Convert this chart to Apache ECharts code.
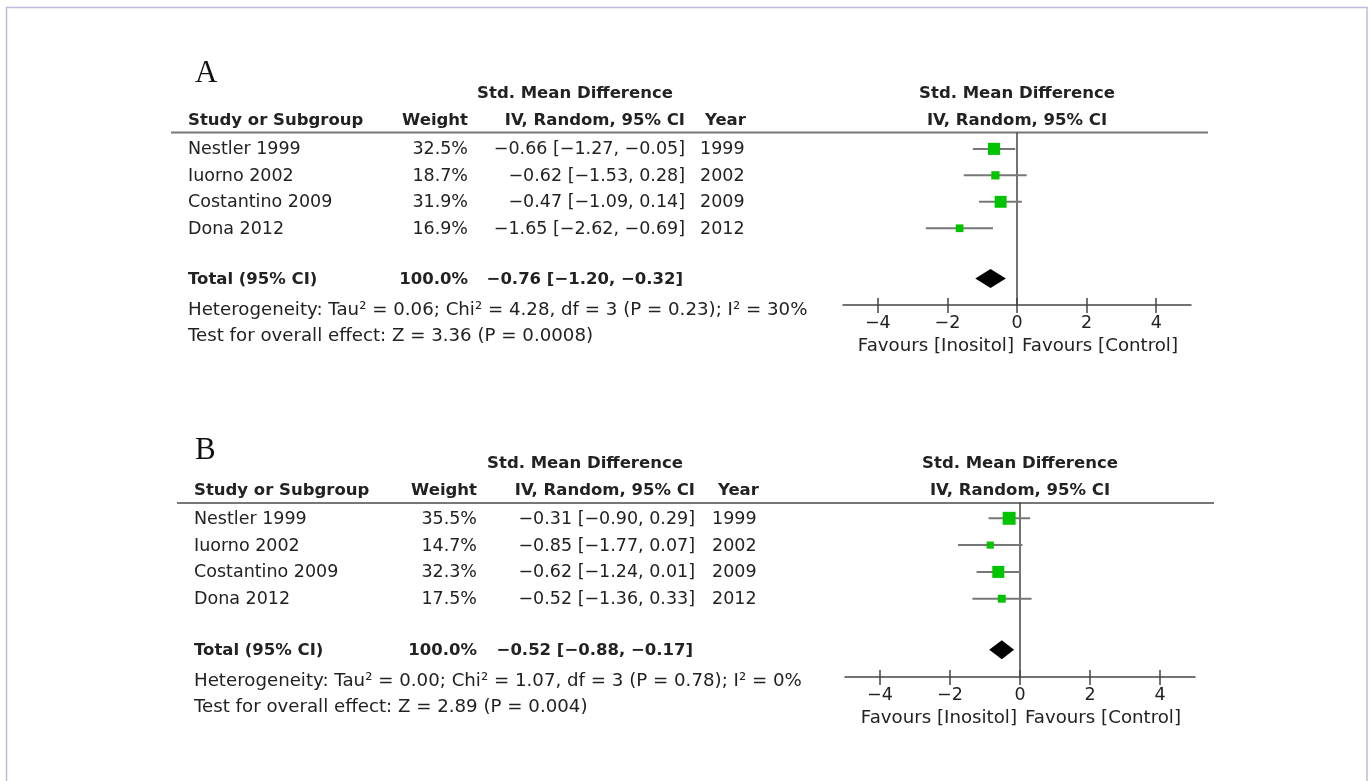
<!DOCTYPE html>
<html>
<head>
<meta charset="utf-8">
<script src="https://cdn.jsdelivr.net/npm/echarts@6/dist/echarts.min.js"></script>
<style>
html, body { margin: 0; padding: 0; background: #fff; }
#main { width: 1370px; height: 781px; }
</style>
</head>
<body>
<div id="main"></div>
<script>
// data
var studies = ['Nestler 1999', 'Iuorno 2002', 'Costantino 2009', 'Dona 2012'];
var years = [1999, 2002, 2009, 2012];
var xTicks = [-4, -2, 0, 2, 4];

var weightA = [32.5, 18.7, 31.9, 16.9];
var smdA = [-0.66, -0.62, -0.47, -1.65];
var lowA = [-1.27, -1.53, -1.09, -2.62];
var highA = [-0.05, 0.28, 0.14, -0.69];
var totalA = [-0.76, -1.20, -0.32]; // est, low, high
var hetA = 'Heterogeneity: Tau² = 0.06; Chi² = 4.28, df = 3 (P = 0.23); I² = 30%';
var testA = 'Test for overall effect: Z = 3.36 (P = 0.0008)';

var weightB = [35.5, 14.7, 32.3, 17.5];
var smdB = [-0.31, -0.85, -0.62, -0.52];
var lowB = [-0.90, -1.77, -1.24, -1.36];
var highB = [0.29, 0.07, 0.01, 0.33];
var totalB = [-0.52, -0.88, -0.17];
var hetB = 'Heterogeneity: Tau² = 0.00; Chi² = 1.07, df = 3 (P = 0.78); I² = 0%';
var testB = 'Test for overall effect: Z = 2.89 (P = 0.004)';

var FONT = '"DejaVu Sans", sans-serif';
var TXT = '#222';
var REG = '17.5px ' + FONT;
var NOTE = '18.2px ' + FONT;
var BOLD = 'bold 16.5px ' + FONT;

// layout of the two panels
var panels = [
    {label: 'A', weight: weightA, smd: smdA, low: lowA, high: highA, total: totalA, het: hetA, test: testA,
     left: 843, right: 1191, top: 133, bottom: 305, yMin: -0.6, yMax: 5.9,
     colName: 188, colWeight: 468, colCI: 685, colYear: 700, colYearHead: 705,
     head1: 94, head2: 121, headCenter: 575, zeroX: 1017, ruleY: 132.5, ruleX1: 171, ruleX2: 1208, letterY: 74},
    {label: 'B', weight: weightB, smd: smdB, low: lowB, high: highB, total: totalB, het: hetB, test: testB,
     left: 845, right: 1195, top: 503, bottom: 677, yMin: -0.57, yMax: 5.92,
     colName: 194, colWeight: 477, colCI: 695, colYear: 712, colYearHead: 718,
     head1: 464, head2: 491, headCenter: 585, zeroX: 1020, ruleY: 503, ruleX1: 177, ruleX2: 1214, letterY: 451}
];
var TOTAL_ROW = 4.9, HET_ROW = 6.05, TEST_ROW = 7.03;

function fmt(v) {
    return v.toFixed(2).replace('-', '\u2212');
}
function ciText(e, l, h) {
    return fmt(e) + ' [' + fmt(l) + ', ' + fmt(h) + ']';
}

var grids = [], xAxes = [], yAxes = [], series = [], graphics = [];

graphics.push({
    type: 'rect', silent: true,
    shape: {x: 6.5, y: 7.5, width: 1360.5, height: 800},
    style: {fill: 'none', stroke: '#bcbce0', lineWidth: 1.5}
});

panels.forEach(function (p, k) {
    grids.push({left: p.left, top: p.top, width: p.right - p.left, height: p.bottom - p.top});
    xAxes.push({
        type: 'value', gridIndex: k, min: -5, max: 5, position: 'bottom',
        axisLine: {onZero: false, lineStyle: {color: '#444', width: 1.5}},
        axisTick: {show: true, length: 8, customValues: xTicks, lineStyle: {color: '#444', width: 1.5}},
        axisLabel: {customValues: xTicks, margin: 9, fontSize: 17.5, fontFamily: FONT, color: TXT,
            formatter: function (v) { return String(v).replace('-', '\u2212'); }},
        splitLine: {show: false}
    });
    xAxes.push({
        type: 'value', gridIndex: k, min: -5, max: 5, position: 'bottom',
        axisLine: {show: false, onZero: false},
        axisTick: {show: true, inside: true, length: 7, customValues: xTicks, lineStyle: {color: '#444', width: 1.5}},
        axisLabel: {show: false},
        splitLine: {show: false}
    });
    yAxes.push({
        type: 'value', gridIndex: k, inverse: true, min: p.yMin, max: p.yMax,
        axisLine: {show: true, onZero: true, onZeroAxisIndex: k * 2, lineStyle: {color: '#444', width: 1.5}},
        axisTick: {show: false}, axisLabel: {show: false}, splitLine: {show: false}
    });

    // study CIs and weight squares
    series.push({
        type: 'custom', xAxisIndex: k * 2, yAxisIndex: k, clip: false,
        data: studies.map(function (s, i) { return [p.smd[i], i, p.low[i], p.high[i], p.weight[i]]; }),
        renderItem: function (params, api) {
            var c = api.coord([api.value(0), api.value(1)]);
            var l = api.coord([api.value(2), api.value(1)]);
            var h = api.coord([api.value(3), api.value(1)]);
            var size = 3 + 0.28 * api.value(4);
            return {type: 'group', children: [
                {type: 'line', shape: {x1: l[0], y1: l[1], x2: h[0], y2: h[1]}, style: {stroke: '#777', lineWidth: 2}},
                {type: 'rect', shape: {x: c[0] - size / 2, y: c[1] - size / 2, width: size, height: size}, style: {fill: '#00c400'}}
            ]};
        }
    });

    // pooled diamond
    series.push({
        type: 'custom', xAxisIndex: k * 2, yAxisIndex: k, clip: false,
        data: [[p.total[0], TOTAL_ROW, p.total[1], p.total[2]]],
        renderItem: function (params, api) {
            var c = api.coord([api.value(0), api.value(1)]);
            var l = api.coord([api.value(2), api.value(1)]);
            var h = api.coord([api.value(3), api.value(1)]);
            var hh = 9.5;
            return {type: 'polygon', shape: {points: [[l[0], c[1]], [c[0], c[1] - hh], [h[0], c[1]], [c[0], c[1] + hh]]},
                style: {fill: '#000'}};
        }
    });

    // table text, rows placed on the same y axis
    var rows = studies.map(function (s, i) { return [0, i]; });
    rows.push([0, TOTAL_ROW], [0, HET_ROW], [0, TEST_ROW]);
    series.push({
        type: 'custom', xAxisIndex: k * 2, yAxisIndex: k, clip: false, silent: true,
        data: rows,
        renderItem: function (params, api) {
            var i = params.dataIndex;
            var y = api.coord([0, api.value(1)])[1] + 1;
            function t(text, x, align, font) {
                return {type: 'text', x: x, y: y, style: {text: text, fill: TXT,
                    font: font || REG, textAlign: align, textVerticalAlign: 'middle'}};
            }
            var ch;
            if (i < studies.length) {
                ch = [t(studies[i], p.colName, 'left'),
                      t(p.weight[i].toFixed(1) + '%', p.colWeight, 'right'),
                      t(ciText(p.smd[i], p.low[i], p.high[i]), p.colCI, 'right'),
                      t(String(years[i]), p.colYear, 'left')];
            } else if (i === studies.length) {
                ch = [t('Total (95% CI)', p.colName, 'left', BOLD),
                      t('100.0%', p.colWeight, 'right', BOLD),
                      t(ciText(p.total[0], p.total[1], p.total[2]), p.colCI - 2, 'right', BOLD)];
            } else if (i === studies.length + 1) {
                ch = [t(p.het, p.colName, 'left', NOTE)];
            } else {
                ch = [t(p.test, p.colName, 'left', NOTE)];
            }
            return {type: 'group', children: ch};
        }
    });

    function gt(text, x, y, align, font) {
        return {type: 'text', silent: true, x: x, y: y,
            style: {text: text, fill: TXT, font: font || REG,
                textAlign: align, textVerticalAlign: 'middle'}};
    }
    graphics.push({type: 'text', silent: true, x: 195, y: p.letterY,
        style: {text: p.label, fill: '#111', font: '31px "Liberation Serif", serif', textAlign: 'left', textVerticalAlign: 'middle'}});
    graphics.push(gt('Std. Mean Difference', p.headCenter, p.head1, 'center', BOLD));
    graphics.push(gt('Study or Subgroup', p.colName, p.head2, 'left', BOLD));
    graphics.push(gt('Weight', p.colWeight, p.head2, 'right', BOLD));
    graphics.push(gt('IV, Random, 95% CI', p.colCI, p.head2, 'right', BOLD));
    graphics.push(gt('Year', p.colYearHead, p.head2, 'left', BOLD));
    graphics.push(gt('Std. Mean Difference', p.zeroX, p.head1, 'center', BOLD));
    graphics.push(gt('IV, Random, 95% CI', p.zeroX, p.head2, 'center', BOLD));
    graphics.push({type: 'line', silent: true, shape: {x1: p.ruleX1, y1: p.ruleY, x2: p.ruleX2, y2: p.ruleY},
        style: {stroke: '#777', lineWidth: 2}});
    graphics.push(gt('Favours [Inositol]', p.zeroX - 3, p.bottom + 41, 'right', NOTE));
    graphics.push(gt('Favours [Control]', p.zeroX + 5, p.bottom + 41, 'left', NOTE));
});

var chart = echarts.init(document.getElementById('main'));
chart.setOption({
    animation: false,
    backgroundColor: '#fff',
    grid: grids,
    xAxis: xAxes,
    yAxis: yAxes,
    series: series,
    graphic: graphics
});
</script>
</body>
</html>
